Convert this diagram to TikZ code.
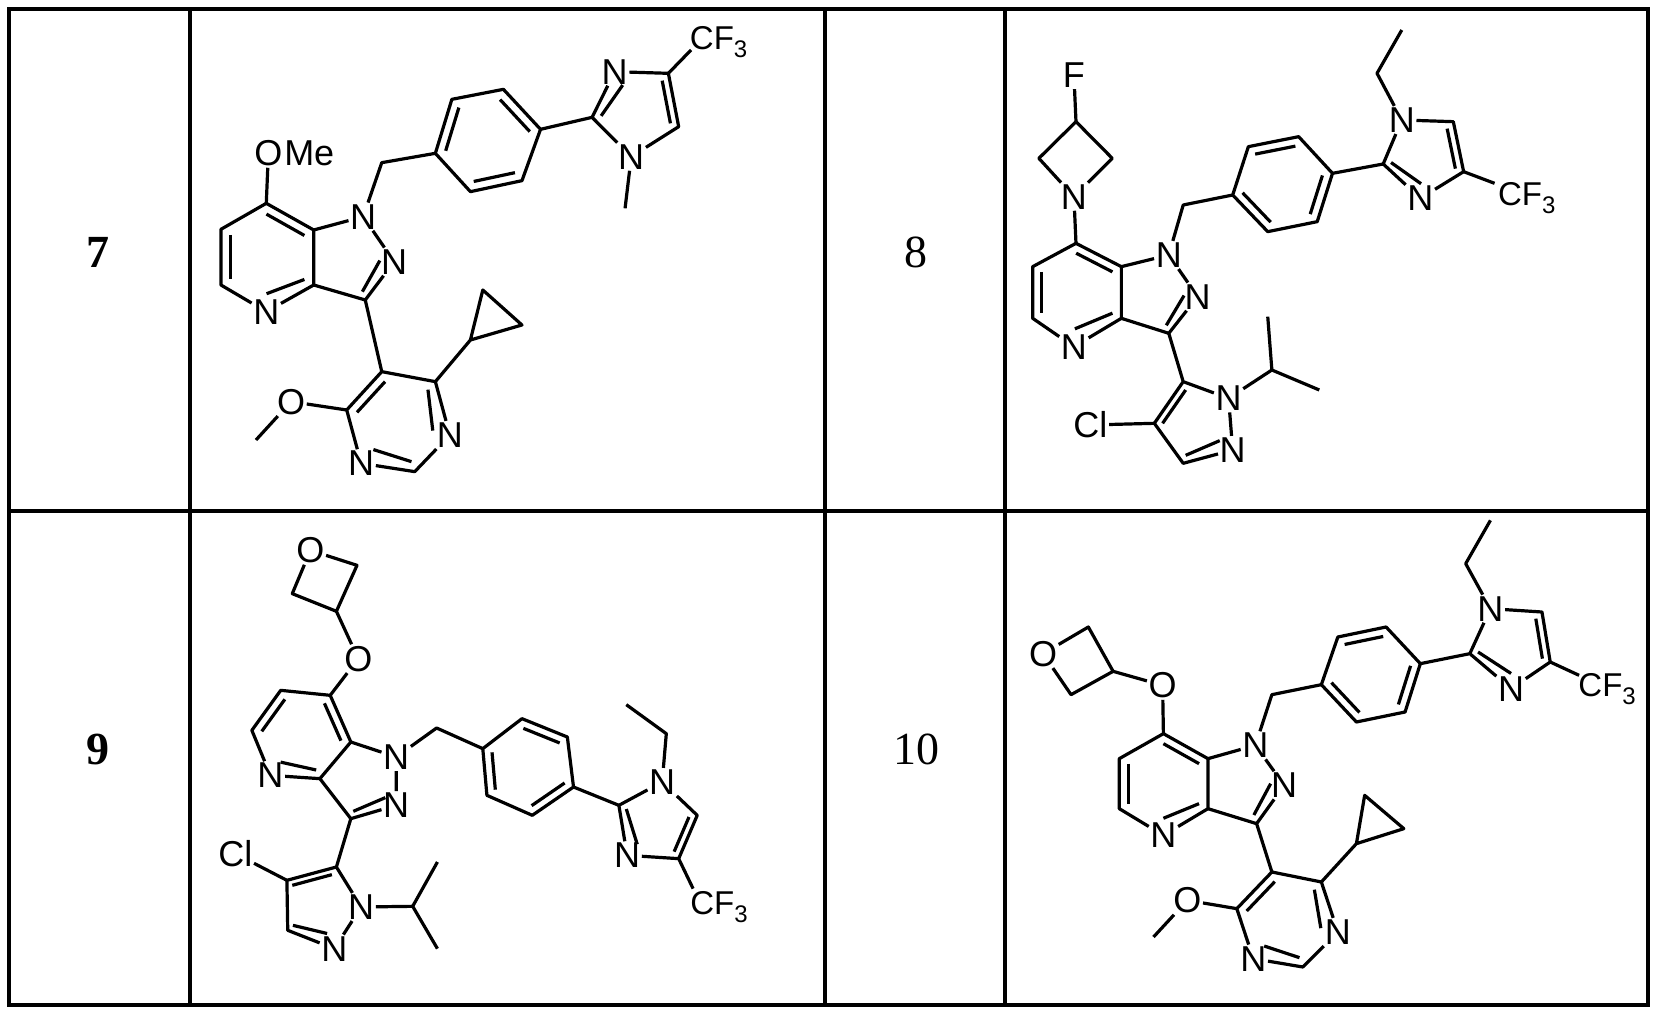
\documentclass[tikz,border=0pt]{standalone}
\usepackage{fontspec}
\setmainfont{Liberation Sans}
\newfontfamily\numfont{Liberation Serif}
\usetikzlibrary{calc}
\newcommand\af{\fontsize{36}{42}\selectfont}
\newcommand\cfthree{\fontsize{33}{40}\selectfont CF\raisebox{-8pt}{\fontsize{24}{24}\selectfont 3}}
\newcommand\dbl[5]{\draw[bond] ($(#1)!#2!(#5)$) -- ($(#3)!#4!(#5)$);}
\tikzset{
  atom/.style={rectangle,inner sep=1.5pt,font=\af},
  bond/.style={line width=3.2pt,line join=round},
  grid/.style={line width=4pt},
  numlab/.style={font=\numfont\fontsize{46}{50}\selectfont},
  mol/.style={xscale=0.41237,yscale=0.33333}
}
\begin{document}
\begin{tikzpicture}[x=1pt,y=-1pt]
\useasboundingbox (0,0) rectangle (1657,1016);
\fill[white] (0,0) rectangle (1657,1016);
% table
\draw[grid] (9,9) rectangle (1648,1005);
\draw[grid] (190,9) -- (190,1005);
\draw[grid] (825,9) -- (825,1005);
\draw[grid] (1005,9) -- (1005,1005);
\draw[grid] (9,511) -- (1648,511);
\node[numlab] (n7) at (98,252) {\bfseries 7};
\node[numlab] (n8) at (916,252) {8};
\node[numlab] (n9) at (98,749) {\bfseries 9};
\node[numlab] (n10) at (916,749) {10};

% ---------- molecule 7 ----------
\begin{scope}[shift={(190,10)},mol]
\node[atom] (a7O) at (190,430) {O};
\node[anchor=base west,inner sep=0pt,font=\af] (a7Me) at (a7O.base east) {Me};
\coordinate (c7) at (185,580); \coordinate (c7a) at (300,660);
\coordinate (c6) at (75,658); \coordinate (c5) at (75,825);
\node[atom] (N4) at (185,905) {N}; \coordinate (c3a) at (300,825);
\node[atom] (N1) at (420,620) {N}; \node[atom] (N2) at (495,755) {N};
\coordinate (c3) at (425,870); \coordinate (ch2) at (465,458);
\coordinate (b1) at (595,430); \coordinate (b2) at (635,268); \coordinate (b3) at (760,238);
\coordinate (b4) at (850,358); \coordinate (b5) at (805,512); \coordinate (b6) at (680,545);
\coordinate (ic2) at (975,322); \node[atom] (iN3) at (1030,185) {N};
\coordinate (ic4) at (1160,190); \coordinate (ic5) at (1185,350);
\node[atom] (iN1) at (1070,440) {N}; \coordinate (ime) at (1055,595);
\coordinate (cfb) at (1215,120);
\node[anchor=base west,inner sep=0pt] (cf) at (1212,120) {\cfthree};
\coordinate (p5) at (465,1085); \coordinate (p4) at (595,1115);
\node[atom] (pN3) at (630,1275) {N}; \coordinate (p2) at (545,1385);
\node[atom] (pN1) at (415,1360) {N}; \coordinate (p6) at (380,1200);
\node[atom] (pO) at (245,1175) {O}; \coordinate (pme) at (160,1290);
\coordinate (cpa) at (680,990); \coordinate (cpt) at (710,840); \coordinate (cpr) at (805,945);
\coordinate (cpyr) at (187,742); \coordinate (cpz) at (390,745); \coordinate (cbz) at (720,392);
\coordinate (cim) at (1085,300); \coordinate (cpm) at (505,1235);
\draw[bond] (c7)--(c7a)--(c3a)--(N4)--(c5)--(c6)--(c7);
\draw[bond] (c7a)--(N1)--(N2)--(c3)--(c3a);
\draw[bond] (c7)--(a7O); \draw[bond] (N1)--(ch2)--(b1);
\draw[bond] (b1)--(b2)--(b3)--(b4)--(b5)--(b6)--cycle;
\draw[bond] (b4)--(ic2)--(iN3)--(ic4)--(ic5)--(iN1)--(ic2);
\draw[bond] (iN1)--(ime); \draw[bond] (ic4)--(cfb);
\draw[bond] (c3)--(p5)--(p4)--(pN3)--(p2)--(pN1)--(p6)--(p5);
\draw[bond] (p6)--(pO)--(pme);
\draw[bond] (p4)--(cpa)--(cpt)--(cpr)--(cpa);
\dbl{c7}{0.2}{c7a}{0.2}{cpyr} \dbl{c6}{0.2}{c5}{0.2}{cpyr} \dbl{N4}{0.33}{c3a}{0.2}{cpyr}
\dbl{N2}{0.33}{c3}{0.2}{cpz}
\dbl{b1}{0.2}{b2}{0.2}{cbz} \dbl{b3}{0.2}{b4}{0.2}{cbz} \dbl{b5}{0.2}{b6}{0.2}{cbz}
\dbl{ic2}{0.2}{iN3}{0.35}{cim} \dbl{ic4}{0.2}{ic5}{0.2}{cim}
\dbl{p5}{0.2}{p6}{0.2}{cpm} \dbl{p4}{0.2}{pN3}{0.33}{cpm} \dbl{pN1}{0.33}{p2}{0.2}{cpm}
\end{scope}

% ---------- molecule 8 ----------
\begin{scope}[shift={(1010,10)},mol]
\node[atom] (F) at (155,195) {F};
\coordinate (az3) at (160,335); \coordinate (azl) at (70,445); \coordinate (azr) at (248,445);
\node[atom] (azN) at (155,560) {N};
\coordinate (c7) at (160,700); \coordinate (c7a) at (270,770);
\coordinate (c6) at (55,770); \coordinate (c5) at (55,925);
\node[atom] (N4) at (155,1010) {N}; \coordinate (c3a) at (270,925);
\node[atom] (N1) at (385,735) {N}; \node[atom] (N2) at (455,860) {N};
\coordinate (c3) at (385,970); \coordinate (ch2) at (420,585);
\coordinate (b1) at (540,555); \coordinate (b2) at (578,410); \coordinate (b3) at (700,380);
\coordinate (b4) at (782,490); \coordinate (b5) at (745,635); \coordinate (b6) at (625,665);
\coordinate (ic2) at (905,462); \node[atom] (iN1) at (950,330) {N};
\coordinate (ic5) at (1075,335); \coordinate (ic4) at (1100,485);
\node[atom] (iN3) at (995,565) {N};
\coordinate (et1) at (890,190); \coordinate (et2) at (950,60);
\coordinate (cfb) at (1175,520);
\node[anchor=base west,inner sep=0pt] (cf) at (1183,588) {\cfthree};
\coordinate (q5) at (420,1115); \coordinate (q4) at (350,1240); \coordinate (q3) at (420,1360);
\node[atom] (qN2) at (540,1320) {N}; \node[atom] (qN1) at (530,1165) {N};
\node[atom] (Cl) at (195,1245) {Cl};
\coordinate (ip) at (635,1080); \coordinate (ip1) at (625,920); \coordinate (ip2) at (750,1140);
\coordinate (cpyr) at (162,848); \coordinate (cpz) at (355,850); \coordinate (cbz) at (660,522);
\coordinate (cim) at (1000,440); \coordinate (cqz) at (450,1240);
\draw[bond] (F)--(az3); \draw[bond] (az3)--(azl)--(azN)--(azr)--(az3);
\draw[bond] (azN)--(c7);
\draw[bond] (c7)--(c7a)--(c3a)--(N4)--(c5)--(c6)--(c7);
\draw[bond] (c7a)--(N1)--(N2)--(c3)--(c3a);
\draw[bond] (N1)--(ch2)--(b1);
\draw[bond] (b1)--(b2)--(b3)--(b4)--(b5)--(b6)--cycle;
\draw[bond] (b4)--(ic2)--(iN1)--(ic5)--(ic4)--(iN3)--(ic2);
\draw[bond] (iN1)--(et1)--(et2); \draw[bond] (ic4)--(cfb);
\draw[bond] (c3)--(q5)--(q4)--(q3)--(qN2)--(qN1)--(q5);
\draw[bond] (q4)--(Cl); \draw[bond] (qN1)--(ip)--(ip1); \draw[bond] (ip)--(ip2);
\dbl{c7}{0.2}{c7a}{0.2}{cpyr} \dbl{c6}{0.2}{c5}{0.2}{cpyr} \dbl{N4}{0.33}{c3a}{0.2}{cpyr}
\dbl{N2}{0.33}{c3}{0.2}{cpz}
\dbl{b2}{0.2}{b3}{0.2}{cbz} \dbl{b4}{0.2}{b5}{0.2}{cbz} \dbl{b6}{0.2}{b1}{0.2}{cbz}
\dbl{ic5}{0.2}{ic4}{0.2}{cim} \dbl{ic2}{0.2}{iN3}{0.35}{cim}
\dbl{q5}{0.2}{q4}{0.2}{cqz} \dbl{q3}{0.2}{qN2}{0.35}{cqz}
\end{scope}

% ---------- molecule 9 ----------
\begin{scope}[shift={(190,512)},mol]
\node[atom] (oxO) at (292,115) {O};
\coordinate (ox1) at (405,160); \coordinate (ox3) at (355,298); \coordinate (ox2) at (248,245);
\node[atom] (eO) at (408,440) {O};
\coordinate (c7) at (340,550); \coordinate (c6) at (220,535); \coordinate (c5) at (150,655);
\node[atom] (N4) at (195,790) {N}; \coordinate (c3a) at (315,800); \coordinate (c7a) at (390,690);
\node[atom] (N1) at (500,735) {N}; \node[atom] (N2) at (500,880) {N};
\coordinate (c3) at (390,920); \coordinate (ch2) at (598,648);
\coordinate (b1) at (710,710); \coordinate (b2) at (805,620); \coordinate (b3) at (915,675);
\coordinate (b4) at (930,825); \coordinate (b5) at (830,910); \coordinate (b6) at (720,850);
\coordinate (ic2) at (1040,880); \node[atom] (iN1) at (1145,810) {N};
\coordinate (ic5) at (1230,910); \coordinate (ic4) at (1185,1040);
\node[atom] (iN3) at (1060,1030) {N};
\coordinate (et1) at (1155,665); \coordinate (et2) at (1058,578);
\coordinate (cfb) at (1220,1130);
\node[anchor=base west,inner sep=0pt] (cf) at (1213,1208) {\cfthree};
\coordinate (q5) at (355,1065); \coordinate (q4) at (235,1105); \coordinate (q3) at (237,1255);
\node[atom] (qN2) at (350,1310) {N}; \node[atom] (qN1) at (415,1185) {N};
\node[atom] (Cl) at (110,1025) {Cl};
\coordinate (ip) at (540,1183); \coordinate (ip1) at (600,1050); \coordinate (ip2) at (600,1310);
\coordinate (cpyr) at (270,670); \coordinate (cpz) at (420,810); \coordinate (cbz) at (822,765);
\coordinate (cim) at (1130,935); \coordinate (cqz) at (300,1180);
\draw[bond] (oxO)--(ox1)--(ox3)--(ox2)--(oxO);
\draw[bond] (ox3)--(eO)--(c7);
\draw[bond] (c7)--(c6)--(c5)--(N4)--(c3a)--(c7a)--(c7);
\draw[bond] (c7a)--(N1)--(N2)--(c3)--(c3a);
\draw[bond] (N1)--(ch2)--(b1);
\draw[bond] (b1)--(b2)--(b3)--(b4)--(b5)--(b6)--cycle;
\draw[bond] (b4)--(ic2)--(iN1)--(ic5)--(ic4)--(iN3)--(ic2);
\draw[bond] (iN1)--(et1)--(et2); \draw[bond] (ic4)--(cfb);
\draw[bond] (c3)--(q5)--(q4)--(q3)--(qN2)--(qN1)--(q5);
\draw[bond] (q4)--(Cl); \draw[bond] (qN1)--(ip)--(ip1); \draw[bond] (ip)--(ip2);
\dbl{c6}{0.2}{c5}{0.2}{cpyr} \dbl{N4}{0.33}{c3a}{0.2}{cpyr} \dbl{c7}{0.2}{c7a}{0.2}{cpyr}
\dbl{N2}{0.33}{c3}{0.2}{cpz}
\dbl{b2}{0.2}{b3}{0.2}{cbz} \dbl{b4}{0.2}{b5}{0.2}{cbz} \dbl{b6}{0.2}{b1}{0.2}{cbz}
\dbl{ic5}{0.2}{ic4}{0.2}{cim} \dbl{iN3}{0.35}{ic2}{0.2}{cim}
\dbl{q5}{0.2}{q4}{0.2}{cqz} \dbl{q3}{0.2}{qN2}{0.35}{cqz}
\end{scope}

% ---------- molecule 10 ----------
\begin{scope}[shift={(1010,512)},mol]
\node[atom] (oxO) at (80,425) {O};
\coordinate (ox1) at (190,345); \coordinate (ox3) at (250,478); \coordinate (ox2) at (148,548);
\node[atom] (eO) at (370,520) {O};
\coordinate (c7) at (372,665); \coordinate (c7a) at (480,740);
\coordinate (c6) at (265,740); \coordinate (c5) at (265,890);
\node[atom] (N4) at (372,970) {N}; \coordinate (c3a) at (480,890);
\node[atom] (N1) at (595,700) {N}; \node[atom] (N2) at (665,820) {N};
\coordinate (c3) at (598,935); \coordinate (ch2) at (635,548);
\coordinate (b1) at (755,518); \coordinate (b2) at (795,375); \coordinate (b3) at (912,345);
\coordinate (b4) at (995,455); \coordinate (b5) at (958,600); \coordinate (b6) at (840,630);
\coordinate (ic2) at (1115,425); \node[atom] (iN1) at (1165,290) {N};
\coordinate (ic5) at (1290,300); \coordinate (ic4) at (1310,450);
\node[atom] (iN3) at (1215,530) {N};
\coordinate (et1) at (1105,155); \coordinate (et2) at (1165,25);
\coordinate (cfb) at (1380,490);
\node[anchor=base west,inner sep=0pt] (cf) at (1378,553) {\cfthree};
\coordinate (p5) at (635,1080); \coordinate (p4) at (755,1110);
\node[atom] (pN3) at (795,1260) {N}; \coordinate (p2) at (710,1365);
\node[atom] (pN1) at (590,1340) {N}; \coordinate (p6) at (550,1190);
\node[atom] (pO) at (430,1165) {O}; \coordinate (pme) at (348,1275);
\coordinate (cpa) at (840,995); \coordinate (cpt) at (860,850); \coordinate (cpr) at (955,950);
\coordinate (cpyr) at (372,815); \coordinate (cpz) at (565,805); \coordinate (cbz) at (877,487);
\coordinate (cim) at (1215,400); \coordinate (cpm) at (670,1225);
\draw[bond] (oxO)--(ox1)--(ox3)--(ox2)--(oxO);
\draw[bond] (ox3)--(eO)--(c7);
\draw[bond] (c7)--(c7a)--(c3a)--(N4)--(c5)--(c6)--(c7);
\draw[bond] (c7a)--(N1)--(N2)--(c3)--(c3a);
\draw[bond] (N1)--(ch2)--(b1);
\draw[bond] (b1)--(b2)--(b3)--(b4)--(b5)--(b6)--cycle;
\draw[bond] (b4)--(ic2)--(iN1)--(ic5)--(ic4)--(iN3)--(ic2);
\draw[bond] (iN1)--(et1)--(et2); \draw[bond] (ic4)--(cfb);
\draw[bond] (c3)--(p5)--(p4)--(pN3)--(p2)--(pN1)--(p6)--(p5);
\draw[bond] (p6)--(pO)--(pme);
\draw[bond] (p4)--(cpa)--(cpt)--(cpr)--(cpa);
\dbl{c7}{0.2}{c7a}{0.2}{cpyr} \dbl{c6}{0.2}{c5}{0.2}{cpyr} \dbl{N4}{0.33}{c3a}{0.2}{cpyr}
\dbl{N2}{0.33}{c3}{0.2}{cpz}
\dbl{b2}{0.2}{b3}{0.2}{cbz} \dbl{b4}{0.2}{b5}{0.2}{cbz} \dbl{b6}{0.2}{b1}{0.2}{cbz}
\dbl{ic5}{0.2}{ic4}{0.2}{cim} \dbl{ic2}{0.2}{iN3}{0.35}{cim}
\dbl{p5}{0.2}{p6}{0.2}{cpm} \dbl{p4}{0.2}{pN3}{0.33}{cpm} \dbl{pN1}{0.33}{p2}{0.2}{cpm}
\end{scope}
\end{tikzpicture}
\end{document}
